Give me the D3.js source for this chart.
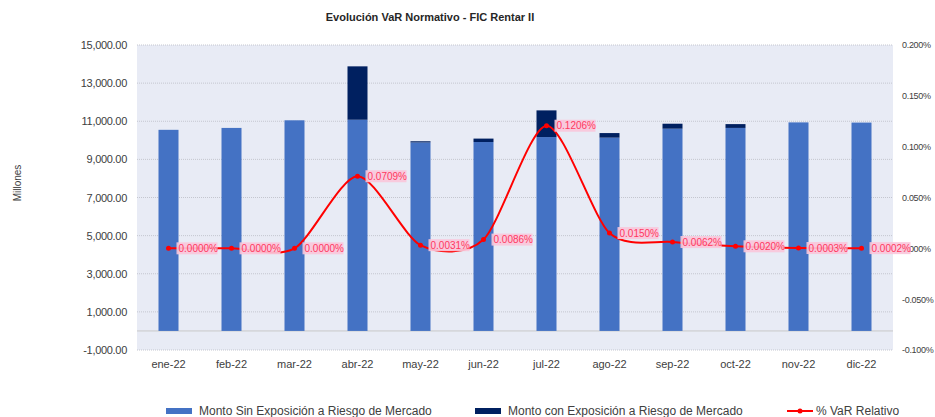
<!DOCTYPE html>
<html>
<head>
<meta charset="utf-8">
<script src="https://cdn.jsdelivr.net/npm/d3@7"></script>
<style>
  body { margin: 0; background: #fff; }
  svg { font-family: "Liberation Sans", Arial, sans-serif; }
</style>
</head>
<body>
<div id="chart"></div>
<script>
// data
var months = ["ene-22", "feb-22", "mar-22", "abr-22", "may-22", "jun-22",
              "jul-22", "ago-22", "sep-22", "oct-22", "nov-22", "dic-22"];
var montoSin = [10550, 10650, 11050, 11080, 9890, 9910, 10170, 10140, 10610, 10650, 10940, 10930];
var montoCon = [0, 0, 0, 2800, 60, 180, 1400, 240, 260, 200, 0, 0];
var varRelativo = [0.0000, 0.0000, 0.0000, 0.0709, 0.0031, 0.0086, 0.1206, 0.0150, 0.0062, 0.0020, 0.0003, 0.0002];
var leftTicks = [-1000, 1000, 3000, 5000, 7000, 9000, 11000, 13000, 15000];
var rightTicks = [-0.100, -0.050, 0.000, 0.050, 0.100, 0.150, 0.200];

var width = 935, height = 417;
var margin = {top: 45, right: 42, bottom: 67, left: 137};
var plotW = width - margin.left - margin.right;
var plotH = height - margin.top - margin.bottom;

// excel style: plain hyphen for negatives
function hyphen(s) { return s.replace("\u2212", "-"); }

var svg = d3.select("#chart").append("svg")
    .attr("width", width)
    .attr("height", height);

var g = svg.append("g")
    .attr("transform", "translate(" + margin.left + "," + margin.top + ")");

var x = d3.scaleBand()
    .domain(months)
    .range([0, plotW]);

var y = d3.scaleLinear()
    .domain([-1000, 15000])
    .range([plotH, 0]);

var y2 = d3.scaleLinear()
    .domain([-0.100, 0.200])
    .range([plotH, 0]);

// plot background
g.append("rect")
    .attr("width", plotW)
    .attr("height", plotH)
    .attr("fill", "#e8ebf5");

// gridlines
g.selectAll(".grid")
    .data(leftTicks)
    .enter().append("line")
    .attr("class", "grid")
    .attr("x1", 0).attr("x2", plotW)
    .attr("y1", d => y(d)).attr("y2", d => y(d))
    .attr("stroke", "#c4c6cf")
    .attr("stroke-width", 1)
    .attr("stroke-dasharray", "1,1");

g.append("line")
    .attr("x1", 0).attr("x2", plotW)
    .attr("y1", y(0)).attr("y2", y(0))
    .attr("stroke", "#c8c8c8");

// axes
var leftAxis = d3.axisLeft(y)
    .tickValues(leftTicks)
    .tickSize(0)
    .tickPadding(10)
    .tickFormat(d => hyphen(d3.format(",.2f")(d)));

g.append("g").call(leftAxis)
    .call(a => a.select(".domain").remove())
    .selectAll("text")
    .attr("font-size", 11)
    .attr("fill", "#404040")
    .style("letter-spacing", "-0.3px");

var rightAxis = d3.axisRight(y2)
    .tickValues(rightTicks)
    .tickSize(0)
    .tickPadding(9)
    .tickFormat(d => hyphen(d3.format(".3f")(d)) + "%");

g.append("g")
    .attr("transform", "translate(" + plotW + ",0)")
    .call(rightAxis)
    .call(a => a.select(".domain").remove())
    .selectAll("text")
    .attr("font-size", 9)
    .attr("fill", "#404040")
    .style("letter-spacing", "-0.3px");

var bottomAxis = d3.axisBottom(x).tickSize(0).tickPadding(10);
g.append("g")
    .attr("transform", "translate(0," + plotH + ")")
    .call(bottomAxis)
    .call(a => a.select(".domain").remove())
    .selectAll("text")
    .attr("font-size", 11)
    .attr("fill", "#404040");

// stacked bars
var barW = 20;
g.selectAll(".barSin")
    .data(months)
    .enter().append("rect")
    .attr("class", "barSin")
    .attr("x", d => x(d) + x.bandwidth() / 2 - barW / 2)
    .attr("width", barW)
    .attr("y", (d, i) => y(montoSin[i]))
    .attr("height", (d, i) => y(0) - y(montoSin[i]))
    .attr("fill", "#4472c4");

g.selectAll(".barCon")
    .data(months)
    .enter().append("rect")
    .attr("class", "barCon")
    .attr("x", d => x(d) + x.bandwidth() / 2 - barW / 2)
    .attr("width", barW)
    .attr("y", (d, i) => y(montoSin[i] + montoCon[i]))
    .attr("height", (d, i) => y(montoSin[i]) - y(montoSin[i] + montoCon[i]))
    .attr("fill", "#002060");

// smoothed line
var pts = months.map(function(m, i) {
    return {x: x(m) + x.bandwidth() / 2, y: y2(varRelativo[i]), v: varRelativo[i]};
});

var line = d3.line()
    .x(d => d.x)
    .y(d => d.y)
    .curve(d3.curveCardinal.tension(0.2));

g.append("path")
    .datum(pts)
    .attr("d", line)
    .attr("fill", "none")
    .attr("stroke", "#ff0000")
    .attr("stroke-width", 2);

g.selectAll(".pt")
    .data(pts)
    .enter().append("circle")
    .attr("class", "pt")
    .attr("cx", d => d.x)
    .attr("cy", d => d.y)
    .attr("r", 2.5)
    .attr("fill", "#ff0000");

// data labels
var labels = g.selectAll(".lbl")
    .data(pts)
    .enter().append("g")
    .attr("class", "lbl")
    .attr("transform", d => "translate(" + (d.x + 8) + "," + d.y + ")");

labels.append("rect")
    .attr("x", 0)
    .attr("y", -6)
    .attr("width", 41)
    .attr("height", 12)
    .attr("fill", "#f9c6da")
    .attr("opacity", 0.9);

labels.append("text")
    .attr("x", 2)
    .attr("y", 3.5)
    .attr("font-size", 10)
    .attr("fill", "#ff3860")
    .text(d => d3.format(".4f")(d.v) + "%");

// title
svg.append("text")
    .attr("x", 430)
    .attr("y", 21)
    .attr("text-anchor", "middle")
    .attr("font-size", 11)
    .attr("font-weight", "bold")
    .attr("fill", "#262626")
    .text("Evolución VaR Normativo - FIC Rentar II");

// y-axis title
svg.append("text")
    .attr("transform", "translate(21,183) rotate(-90)")
    .attr("text-anchor", "middle")
    .attr("font-size", 10)
    .attr("fill", "#404040")
    .text("Millones");

// legend
var legendY = 411;
var legend = [
    {name: "Monto Sin Exposición a Riesgo de Mercado", color: "#4472c4", type: "rect", x: 166},
    {name: "Monto con Exposición a Riesgo de Mercado", color: "#002060", type: "rect", x: 475},
    {name: "% VaR Relativo", color: "#ff0000", type: "line", x: 787}
];

legend.forEach(function(d) {
    if (d.type == "rect") {
        svg.append("rect")
            .attr("x", d.x).attr("y", legendY - 3)
            .attr("width", 26).attr("height", 6)
            .attr("fill", d.color);
    } else {
        svg.append("line")
            .attr("x1", d.x).attr("x2", d.x + 26)
            .attr("y1", legendY).attr("y2", legendY)
            .attr("stroke", d.color).attr("stroke-width", 2);
        svg.append("circle")
            .attr("cx", d.x + 13).attr("cy", legendY)
            .attr("r", 2.5).attr("fill", d.color);
    }
    svg.append("text")
        .attr("x", d.x + (d.type == "rect" ? 33 : 29))
        .attr("y", legendY + 4)
        .attr("font-size", 12)
        .attr("fill", "#404040")
        .text(d.name);
});
</script>
</body>
</html>
